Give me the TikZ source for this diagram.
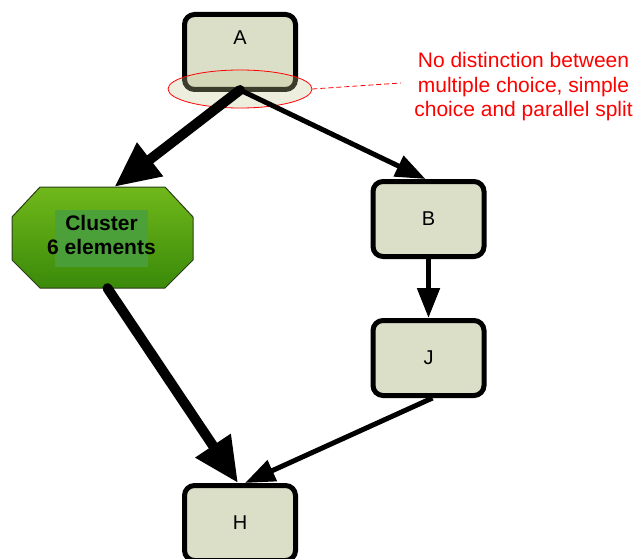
\documentclass[tikz,border=0pt]{standalone}
\usepackage{fontspec}
\setmainfont{Liberation Sans}
\usetikzlibrary{arrows.meta,shapes.geometric}
\definecolor{boxfill}{RGB}{220,223,200}
\definecolor{octtop}{RGB}{112,184,26}
\definecolor{octbot}{RGB}{58,138,10}
\definecolor{octline}{RGB}{45,60,25}
\definecolor{innergreen}{RGB}{74,160,64}
\definecolor{ellfill}{RGB}{200,200,150}
\definecolor{notered}{RGB}{255,0,0}
\begin{document}
\begin{tikzpicture}[x=1pt,y=-1pt,
  box/.style={draw=black, line width=5pt, fill=boxfill, rounded corners=10pt,
    minimum width=111pt, minimum height=75pt, inner sep=0pt,
    font=\fontsize{20}{24}\selectfont},
  smallarrow/.style={line width=5pt, -{Triangle[length=30pt,width=22pt]}},
  bigarrow/.style={line width=10pt, line cap=round, -{Triangle[length=45pt,width=40pt]}}]
\useasboundingbox (0,0) rectangle (634,559);

% boxes
\node[box, text depth=28pt] (A) at (240,52) {A};
\node[box] (B) at (428.5,219) {B};
\node[box] (J) at (428.5,358) {J};
\node[box] (H) at (240,523) {H};

% cluster octagon
\path[draw=octline, line width=1pt, top color=octtop, bottom color=octbot]
  (12,217) -- (40,187) -- (165,187) -- (193,217) -- (193,260) -- (165,288) -- (40,288) -- (12,260) -- cycle;
\fill[innergreen, opacity=0.85] (55,210) rectangle (148,267);
\node[inner sep=0pt, minimum width=181pt, minimum height=101pt, align=center,
  font=\bfseries\fontsize{21}{24}\selectfont] (C) at (102.5,237.5) {};
\node[align=center, inner sep=0pt, font=\bfseries\fontsize{21}{24}\selectfont] (Ct) at (101.5,235) {Cluster\\6 elements};

% annotation
\node[ellipse, draw=notered, line width=0.8pt, fill=ellfill, fill opacity=0.3,
  draw opacity=1, minimum width=144pt, minimum height=38pt, inner sep=0pt] (E) at (240,89) {};
\node[text=notered, align=center, font=\fontsize{21}{24.5}\selectfont] (N) at (523.5,87)
  {No distinction between\\multiple choice, simple\\choice and parallel split};
\draw[notered, dash pattern=on 5pt off 3pt, line width=0.8pt] (E.east) -- ([xshift=-10pt,yshift=4pt]N.west);

% connectors
\draw[smallarrow] ([yshift=2pt]A.south) -- ([xshift=-3pt]B.north);
\draw[bigarrow] ([yshift=2pt]A.south) -- ([xshift=12pt]C.north);
\draw[smallarrow] (B.south) -- (J.north);
\draw[smallarrow] ([xshift=4pt]J.south) -- ([xshift=5pt]H.north);
\draw[bigarrow] ([xshift=5pt]C.south) -- ([xshift=-2pt]H.north);
\end{tikzpicture}
\end{document}
